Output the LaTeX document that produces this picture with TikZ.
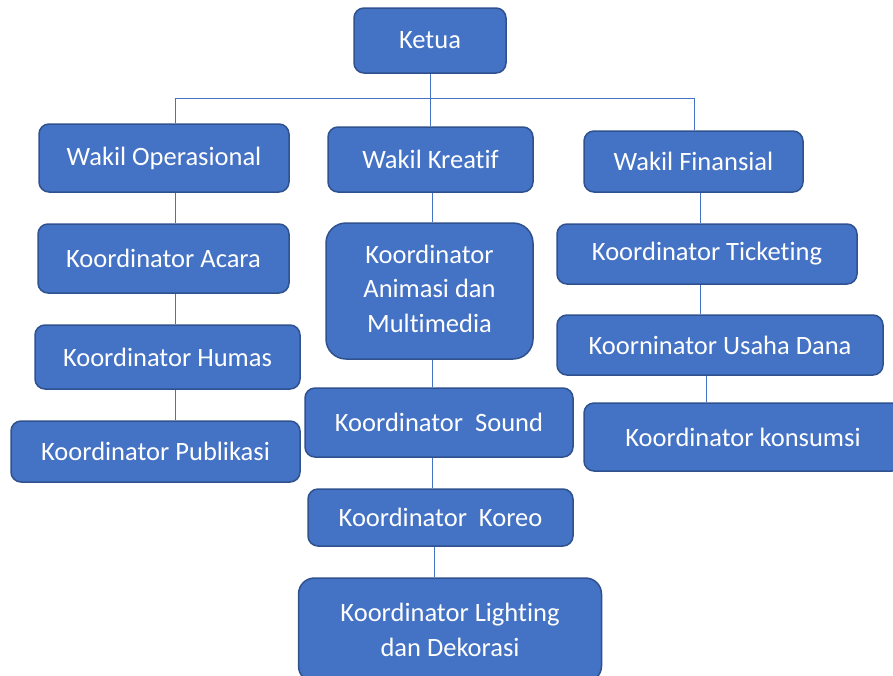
\documentclass[tikz,border=0pt]{standalone}
\usepackage{fontspec}
\setmainfont{Carlito}[Ligatures=NoCommon]
\definecolor{boxfill}{HTML}{4472C4}
\definecolor{boxedge}{HTML}{2F528F}
\definecolor{wire}{HTML}{4472C4}
\begin{document}
\begin{tikzpicture}[x=1pt,y=-1pt,
  orgbox/.style={draw=boxedge, line width=1.5pt, fill=boxfill, rounded corners=10pt,
    text=white, font=\fontsize{26.5}{34.5}\selectfont, align=center, inner sep=0pt},
  link/.style={draw=wire, line width=1pt}]
\useasboundingbox (0,0) rectangle (893,675);
\begin{scope}
\clip (0,0) rectangle (893,675);
% top level
\node[orgbox, minimum width=152pt, minimum height=65pt] (ketua) at (430,40.5) {Ketua};
% deputies
\node[orgbox, minimum width=250pt, minimum height=68pt] (wop) at (164,158) {Wakil Operasional};
\node[orgbox, minimum width=205pt, minimum height=65pt] (wkr) at (430.5,159.5) {Wakil Kreatif};
\node[orgbox, minimum width=219pt, minimum height=61pt] (wfi) at (693.5,161.5) {Wakil Finansial};
% operational column
\node[orgbox, minimum width=251pt, minimum height=69pt] (acara) at (163.5,258.5) {Koordinator Acara};
\node[orgbox, minimum width=265pt, minimum height=64pt] (humas) at (167.5,357) {Koordinator Humas};
\node[orgbox, minimum width=289pt, minimum height=61pt] (publ) at (155.5,451.5) {Koordinator Publikasi};
% creative column
\node[orgbox, rounded corners=20pt, minimum width=207pt, minimum height=136pt] (anim) at (429.5,291) {\raisebox{-3pt}{\begin{tabular}{@{}c@{}}Koordinator\\Animasi dan\\Multimedia\end{tabular}}};
\node[orgbox, minimum width=268pt, minimum height=69pt] (sound) at (439,422.5) {Koordinator~ Sound};
\node[orgbox, minimum width=265pt, minimum height=57pt] (koreo) at (440.5,517.5) {Koordinator~ Koreo};
\node[orgbox, rounded corners=16pt, minimum width=303pt, minimum height=104pt] (light) at (450,630) {Koordinator Lighting\\dan Dekorasi};
% financial column
\node[orgbox, minimum width=300pt, minimum height=60pt] (tick) at (707,254) {Koordinator Ticketing};
\node[orgbox, minimum width=326pt, minimum height=60pt] (usaha) at (720,345) {Koorninator Usaha Dana};
\node[orgbox, minimum width=318pt, minimum height=68pt] (kons) at (743,437) {Koordinator konsumsi};
\end{scope}
% branch coordinates
\coordinate (hl) at (175,98);
\coordinate (hr) at (694,98);
\coordinate (cm) at (432,0);
\coordinate (cl) at (434,0);
\coordinate (fr) at (700,0);
\coordinate (fs) at (706,0);
% connectors
\draw[link] (hl) -- (hr);
\draw[link] (ketua.south) -- (ketua.south |- wkr.north);
\draw[link] (hl) -- (hl |- wop.north);
\draw[link] (hr) -- (hr |- wfi.north);
\draw[link] (wop.south -| hl) -- (acara.north -| hl);
\draw[link] (acara.south -| hl) -- (humas.north -| hl);
\draw[link] (humas.south -| hl) -- (publ.north -| hl);
\draw[link] (wkr.south -| cm) -- (anim.north -| cm);
\draw[link] (anim.south -| cm) -- (sound.north -| cm);
\draw[link] (sound.south -| cm) -- (koreo.north -| cm);
\draw[link] (koreo.south -| cl) -- (light.north -| cl);
\draw[link] (wfi.south -| fr) -- (tick.north -| fr);
\draw[link] (tick.south -| fr) -- (usaha.north -| fr);
\draw[link] (usaha.south -| fs) -- (kons.north -| fs);
\end{tikzpicture}
\end{document}
